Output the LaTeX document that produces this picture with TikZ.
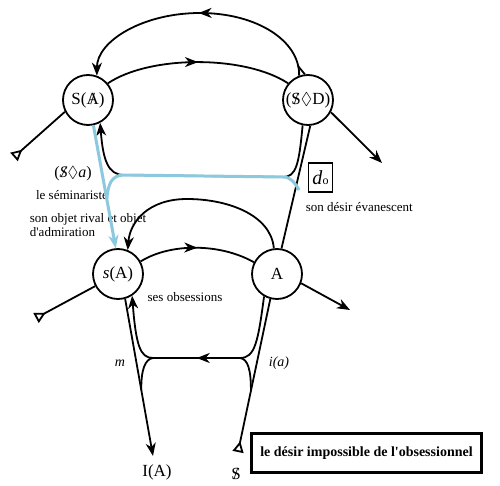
\documentclass[tikz,border=0pt]{standalone}
\usepackage{fontspec}
\setmainfont{Liberation Serif}[Ligatures=TeXOff]
\usepackage{amssymb}
\usepackage{tikz}
\usetikzlibrary{arrows.meta, calc, decorations.markings}

\definecolor{bleuclair}{RGB}{140,200,222}
\newcommand{\sbarre}[1]{\ooalign{#1\cr\hidewidth/\hidewidth\cr}}

\begin{document}
\begin{tikzpicture}[x=1pt, y=-1pt, line width=1.8pt, inner sep=0pt,
	>={Stealth[length=13pt, width=10pt, inset=4pt]},
	lieu/.style={circle, draw, line width=1.8pt, minimum size=50pt, font=\fontsize{17}{17}\selectfont},
	bleu/.style={draw=bleuclair, line width=3pt},
	milieu/.style={postaction={decorate}, decoration={markings, mark=at position #1 with {\arrow{>}}}},
	depart/.style={-{Triangle[open, reversed, length=11pt, width=11pt, line width=1.8pt]}},
	texte/.style={font=\fontsize{13}{14}\selectfont},
	]

	\useasboundingbox (0,0) rectangle (500,486);

	% les quatre lieux
	\node[lieu](SA) at (88,100) {S(\sbarre{A})};
	\node[lieu](SD) at (308,100) {(\sbarre{S}$\lozenge$D)};
	\node[lieu](sA) at (118,274) {\textit{s}(A)};
	\node[lieu](A) at (277,274) {A};

	\node[font=\fontsize{17}{17}\selectfont](IA) at (157,472) {I(A)};
	\node[font=\fontsize{17}{17}\selectfont](bS) at (236,474) {\sbarre{S}};

	\node[font=\fontsize{16}{16}\selectfont](Sa) at (73,174) {(\textit{\sbarre{S}}$\lozenge$\textit{a})};
	\node[texte](sem) at (72,195) {le séminariste};
	\node[texte, align=left, anchor=west](rival) at (29,225) {son objet rival et objet\\d'admiration};
	\node[draw, line width=1.8pt, minimum width=24pt, minimum height=29pt](d) at (320.5,177.5) {\fontsize{20}{20}\selectfont\textit{d}\fontsize{12}{12}\selectfont o};
	\node[texte, anchor=west](evan) at (305,207) {son désir évanescent};
	\node[texte](obs) at (185,297) {ses obsessions};
	\node[font=\fontsize{14}{14}\selectfont\itshape](m) at (120,363) {m};
	\node[font=\fontsize{14}{14}\selectfont\itshape](ia) at (279,363) {i(a)};
	\node[draw, line width=3pt, minimum width=230pt, minimum height=39pt, font=\fontsize{14}{14}\selectfont\bfseries](titre) at (366.5,453) {le désir impossible de l'obsessionnel};

	\coordinate (coin) at (298,66);
	\coordinate (queueSA) at (14,157);
	\coordinate (sortieSD) at (382,163);
	\coordinate (hd) at (283,177);
	\coordinate (hg) at (124,175);
	\coordinate (bg) at ($(SA.-78)!0.6!(sA.95)$);
	\coordinate (bd) at (299,190);
	\coordinate (queuesA) at (36,318);
	\coordinate (sortieA) at (350,310);
	\coordinate (finm) at (153,456);
	\coordinate (finS) at (238,452);
	\coordinate (hmd) at (240,358);
	\coordinate (hmg) at (153,358);
	\coordinate (jd) at ($(A.-105)!0.6!(finS)$);
	\coordinate (jg) at ($(sA.-74)!0.58!(finm)$);

	% etage superieur
	\draw[milieu=0.5, ->] (SD.110) .. controls (300,41) and (257,13) .. (200,13) .. controls (143,13) and (97,41) .. (SA.70);
	\draw (coin) -- (SD.97);
	\draw[milieu=0.5] (SA.40) .. controls (150,55) and (245,55) .. (SD.140);
	\draw[depart] (SA.207) -- (queueSA);
	\draw[->] (SD.-28) -- (sortieSD);
	\draw (SD.-85) -- (A.80);
	\draw[->] (SD.-102) .. controls (299,165) and (296,177) .. (hd) -- (hg) .. controls (108,175) and (103,160) .. (SA.-62);

	% trait bleu
	\draw[bleu, ->] (SA.-78) -- (sA.95);
	\draw[bleu] (bg) .. controls (108,185) and (111,175) .. (hg) -- (hd) .. controls (291,177) and (295,183) .. (bd);

	% etage inferieur
	\draw[->] (A.97) .. controls (271,215) and (228,199) .. (187,199) .. controls (148,199) and (130,222) .. (sA.68);
	\draw[milieu=0.5] (sA.29) .. controls (170,243) and (220,243) .. (A.153);
	\draw[depart] (sA.208) -- (queuesA);
	\draw[->] (A.-21) -- (sortieA);
	\draw[->] (sA.-74) -- (finm);
	\draw[depart] (A.-105) -- (finS);
	\draw[->, milieu=0.5] (A.-120) .. controls (258,342) and (255,358) .. (hmd) -- (hmg) .. controls (140,358) and (136,345) .. (sA.-57);
	\draw (hmd) .. controls (248,359) and (251,370) .. (jd);
	\draw (hmg) .. controls (145,359) and (141,370) .. (jg);
\end{tikzpicture}
\end{document}
